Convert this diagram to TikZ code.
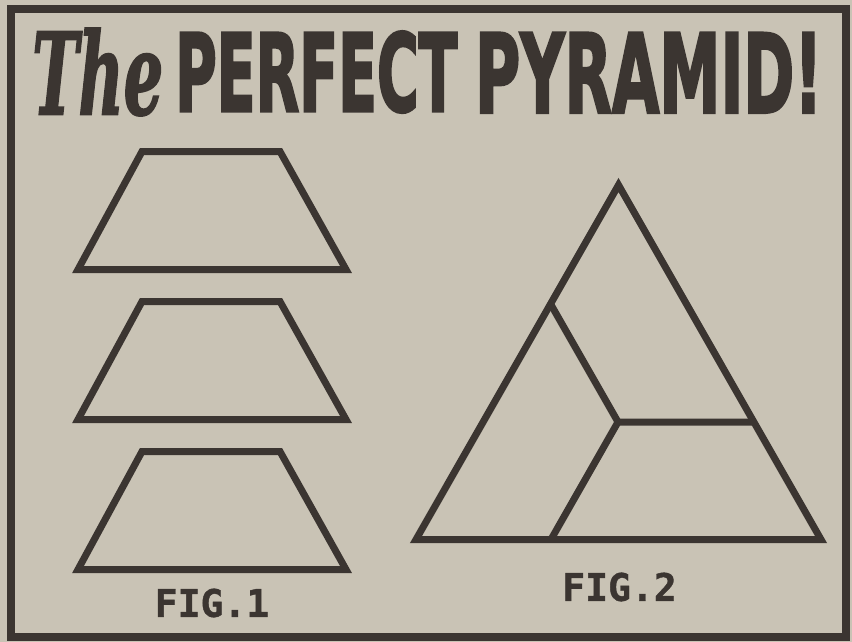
\documentclass[tikz,border=0pt]{standalone}
\usepackage{fontspec}
\setmainfont{DejaVu Sans}
\newfontfamily\ttlfont{DejaVu Sans Condensed}[BoldFeatures={FakeBold=2.5}]
\newfontfamily\swashfont{DejaVu Serif}[BoldItalicFeatures={FakeBold=2}]
\newfontfamily\figfnt{DejaVu Sans Mono}[BoldFeatures={FakeBold=1}]
\definecolor{paper}{HTML}{C9C3B5}
\definecolor{ink}{HTML}{3B3531}
\tikzset{
  shp/.style={draw=ink, line width=7pt, line join=miter},
  frame/.style={draw=ink, line width=8pt},
  figlabel/.style={inner sep=0pt, text=ink, font=\figfnt\bfseries\fontsize{38}{40}\selectfont},
  titletext/.style={inner sep=0pt, text=ink}
}
\begin{document}
\begin{tikzpicture}[x=1pt,y=-1pt]
\fill[paper] (0,0) rectangle (852,642);
\useasboundingbox (0,0) rectangle (852,642);
\draw[frame] (11,9) rectangle (846,637);

% title
\node[titletext, anchor=north west] (the) at (32,28)
  {\resizebox{131pt}{86pt}{\swashfont\bfseries\itshape The}};
\node[titletext, anchor=south west] (perfect) at (175,113)
  {\resizebox{282pt}{80pt}{\ttlfont\bfseries PERFECT}};
\node[titletext, anchor=south west] (pyramid) at (475,113)
  {\resizebox{347pt}{80pt}{\ttlfont\bfseries PYRAMID!}};

% fig 1: three trapezoids
\foreach \dy in {0,150,300}{
  \draw[shp] (142,151.5+\dy) -- (280,151.5+\dy) -- (346,269.5+\dy) -- (78,269.5+\dy) -- cycle;
}

% fig 2: dissected triangle
\coordinate (A) at (618.5,185);
\coordinate (BL) at (416,539.5);
\coordinate (BR) at (821,539.5);
\coordinate (L) at (550.6,304);
\coordinate (J) at (618,422);
\coordinate (R) at (754,422);
\coordinate (B) at (551,539.5);
\draw[shp] (A) -- (BR) -- (BL) -- cycle;
\draw[shp] (L) -- (J) -- (R);
\draw[shp] (J) -- (B);

% labels
\node[figlabel] (fig1) at (212,603) {FIG.1};
\node[figlabel] (fig2) at (619.5,587) {FIG.2};
\end{tikzpicture}
\end{document}
